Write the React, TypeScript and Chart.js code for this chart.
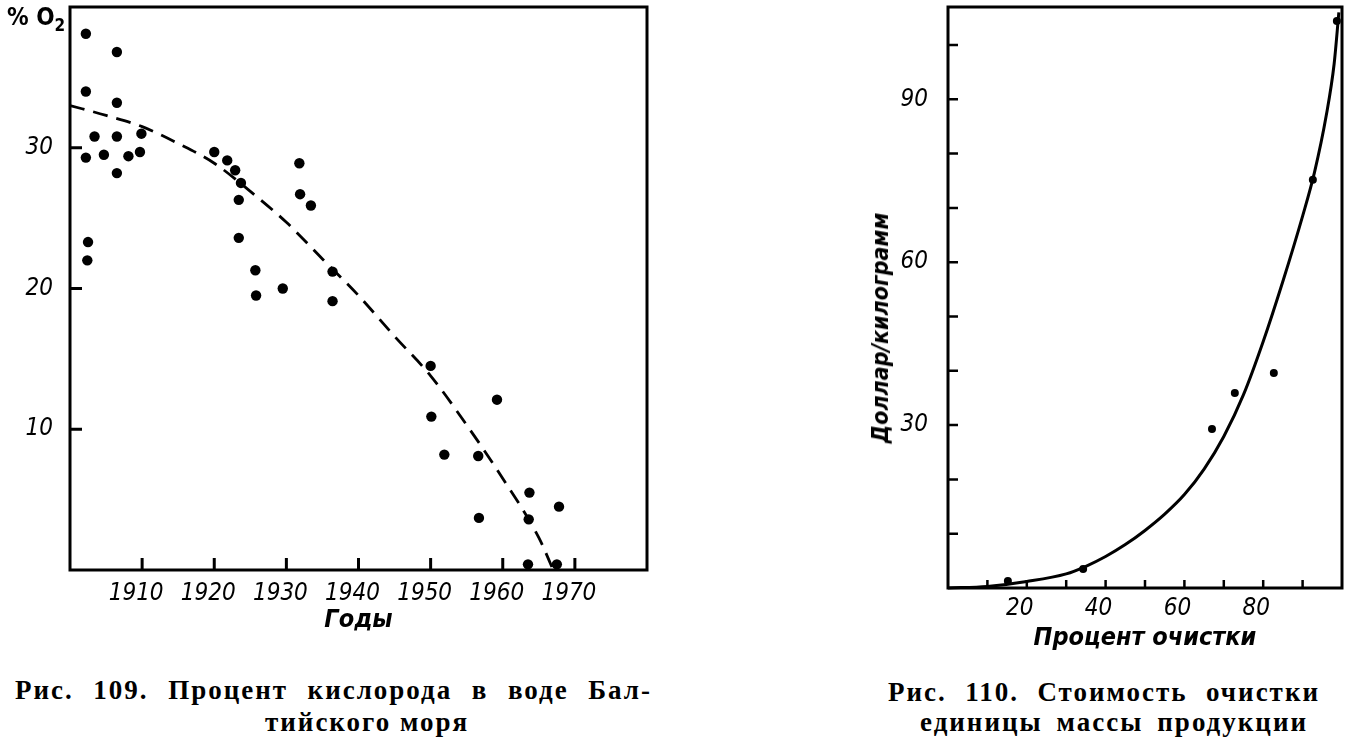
import React, { useEffect, useRef } from "react";
import { Chart, registerables } from "chart.js";

Chart.register(...registerables);

// ---------- Рис. 109: oxygen in Baltic Sea ----------
const oxygenYears = [
  1902.2, 1906.5, 1902.2, 1906.5, 1903.4, 1906.5, 1909.9, 1902.2, 1904.7, 1908.1,
  1909.7, 1906.5, 1902.5, 1902.4, 1920.0, 1921.8, 1922.9, 1923.7, 1923.4, 1923.4,
  1925.7, 1925.8, 1929.5, 1931.8, 1931.9, 1933.4, 1936.4, 1936.4, 1950.0, 1950.1,
  1951.9, 1956.6, 1959.2, 1956.7, 1963.7, 1963.6, 1963.5, 1967.8, 1967.5,
];
const oxygenValues = [
  38.1, 36.8, 34.0, 33.2, 30.8, 30.8, 31.0, 29.3, 29.5, 29.4,
  29.7, 28.2, 23.3, 22.0, 29.7, 29.1, 28.4, 27.5, 26.3, 23.6,
  21.3, 19.5, 20.0, 28.9, 26.7, 25.9, 21.2, 19.1, 14.5, 10.9,
  8.2, 8.1, 12.1, 3.7, 5.5, 3.6, 0.4, 4.5, 0.4,
];
const trendYears = [1900, 1905, 1910, 1915, 1920, 1925, 1930, 1935, 1940, 1945, 1950, 1955, 1960, 1965, 1967];
const trendValues = [33.0, 32.3, 31.5, 30.3, 28.9, 26.9, 24.7, 22.1, 19.5, 16.6, 13.8, 10.3, 6.5, 2.3, 0];
const oxygenXTicks = [1910, 1920, 1930, 1940, 1950, 1960, 1970];
const oxygenYTicks = [10, 20, 30];

// ---------- Рис. 110: cost of cleaning ----------
const cleanPercent = [15.2, 34.3, 67.0, 72.8, 82.7, 92.6, 98.7];
const cleanCost = [1.3, 3.5, 29.3, 35.9, 39.6, 75.2, 104.4];
const costCurveX = [0, 10, 20, 30, 35, 40, 45, 50, 55, 60, 65, 70, 75, 80, 85, 90, 93, 96, 98, 99.2];
const costCurveY = [0, 0.3, 1.2, 2.6, 4.0, 5.8, 8.0, 10.6, 13.6, 17.2, 21.9, 27.9, 35.6, 45.4, 56.5, 68.5, 76.5, 87.0, 96.5, 106.0];
const costXTicks = [10, 20, 30, 40, 50, 60, 70, 80, 90];
const costXLabels = [20, 40, 60, 80];
const costYTicks = [10, 20, 30, 40, 50, 60, 70, 80, 90, 100];
const costYLabels = [30, 60, 90];

const NARROW = '"DejaVu Sans Condensed", "DejaVu Sans", sans-serif';
const SERIF = '"Liberation Serif", "Times New Roman", serif';

// Frame around the plot area plus inward tick marks taken from the scales' own ticks
function makeFramePlugin(xLen: number, yLen: number, width: number) {
  return {
    id: "frameTicks",
    afterDraw(chart: any) {
      const { ctx, chartArea, scales } = chart;
      const { left, top, right, bottom } = chartArea;
      ctx.save();
      ctx.strokeStyle = "#000";
      ctx.lineCap = "butt";
      ctx.lineWidth = width;
      ctx.beginPath();
      for (const t of scales.x.ticks) {
        const px = scales.x.getPixelForValue(t.value);
        ctx.moveTo(px, bottom);
        ctx.lineTo(px, bottom - xLen);
      }
      for (const t of scales.y.ticks) {
        const py = scales.y.getPixelForValue(t.value);
        ctx.moveTo(left, py);
        ctx.lineTo(left + yLen, py);
      }
      ctx.stroke();
      ctx.lineWidth = 3;
      ctx.strokeRect(left, top, right - left, bottom - top);
      ctx.restore();
    },
  };
}

const tickFont = { family: NARROW, size: 24, style: "italic" as const };

const zeroPadding = (s: any) => {
  s.paddingTop = 0;
  s.paddingBottom = 0;
  s.paddingLeft = 0;
  s.paddingRight = 0;
};

function OxygenChart() {
  const ref = useRef<HTMLCanvasElement>(null);
  useEffect(() => {
    const chart = new Chart(ref.current!, {
      type: "scatter",
      data: {
        datasets: [
          {
            data: oxygenYears.map((x, i) => ({ x, y: oxygenValues[i] })),
            pointRadius: 5.2,
            pointBackgroundColor: "#000",
            pointBorderColor: "#000",
            pointBorderWidth: 0,
            showLine: false,
            clip: false as any,
          },
          {
            data: trendYears.map((x, i) => ({ x, y: trendValues[i] })),
            showLine: true,
            pointRadius: 0,
            borderColor: "#000",
            borderWidth: 2.8,
            borderDash: [15, 9],
            cubicInterpolationMode: "monotone",
            fill: false,
          } as any,
        ],
      },
      options: {
        animation: false,
        responsive: false,
        events: [],
        layout: { padding: { top: 7, right: 33, left: 0, bottom: 0 } },
        plugins: { legend: { display: false }, tooltip: { enabled: false } },
        scales: {
          x: {
            type: "linear",
            min: 1900,
            max: 1980,
            afterBuildTicks: (s: any) => {
              s.ticks = oxygenXTicks.map((value) => ({ value }));
            },
            afterFit: (s: any) => {
              s.height = 70;
              zeroPadding(s);
            },
            grid: { display: false, drawTicks: false },
            border: { display: false },
            ticks: {
              font: tickFont,
              color: "#000",
              padding: 9,
              labelOffset: -6,
              maxRotation: 0,
              autoSkip: false,
              callback: (v: any) => String(v),
            },
            title: {
              display: true,
              text: "Годы",
              color: "#000",
              font: { family: NARROW, size: 25, style: "italic", weight: "bold" },
              padding: { top: 0, bottom: 5 },
            },
          },
          y: {
            type: "linear",
            min: 0,
            max: 40,
            afterBuildTicks: (s: any) => {
              s.ticks = oxygenYTicks.map((value) => ({ value }));
            },
            afterFit: (s: any) => {
              s.width = 70;
              zeroPadding(s);
            },
            grid: { display: false, drawTicks: false },
            border: { display: false },
            ticks: {
              font: tickFont,
              color: "#000",
              padding: 17,
              autoSkip: false,
              callback: (v: any) => String(v),
            },
          },
        },
      },
      plugins: [makeFramePlugin(12, 12, 3)],
    } as any);
    return () => chart.destroy();
  }, []);
  return (
    <canvas
      ref={ref}
      width={680}
      height={640}
      style={{ position: "absolute", left: 0, top: 0, width: 680, height: 640 }}
    />
  );
}

function CostChart() {
  const ref = useRef<HTMLCanvasElement>(null);
  useEffect(() => {
    const chart = new Chart(ref.current!, {
      type: "scatter",
      data: {
        datasets: [
          {
            data: cleanPercent.map((x, i) => ({ x, y: cleanCost[i] })),
            pointRadius: 4,
            pointBackgroundColor: "#000",
            pointBorderColor: "#000",
            pointBorderWidth: 0,
            showLine: false,
            clip: false as any,
          },
          {
            data: costCurveX.map((x, i) => ({ x, y: costCurveY[i] })),
            showLine: true,
            pointRadius: 0,
            borderColor: "#000",
            borderWidth: 3,
            cubicInterpolationMode: "monotone",
            fill: false,
            clip: false,
          } as any,
        ],
      },
      options: {
        animation: false,
        responsive: false,
        events: [],
        layout: { padding: { top: 7, right: 7, left: 0, bottom: 0 } },
        plugins: { legend: { display: false }, tooltip: { enabled: false } },
        scales: {
          x: {
            type: "linear",
            min: 0,
            max: 100,
            afterBuildTicks: (s: any) => {
              s.ticks = costXTicks.map((value) => ({ value }));
            },
            afterFit: (s: any) => {
              s.height = 72;
              zeroPadding(s);
            },
            grid: { display: false, drawTicks: false },
            border: { display: false },
            ticks: {
              font: tickFont,
              color: "#000",
              padding: 6,
              labelOffset: -7,
              maxRotation: 0,
              autoSkip: false,
              callback: (v: any) => (costXLabels.includes(Number(v)) ? String(v) : ""),
            },
            title: {
              display: true,
              text: "Процент очистки",
              color: "#000",
              font: { family: NARROW, size: 25, style: "italic", weight: "bold" },
              padding: { top: 0, bottom: 7 },
            },
          },
          y: {
            type: "linear",
            min: 0,
            max: 107,
            afterBuildTicks: (s: any) => {
              s.ticks = costYTicks.map((value) => ({ value }));
            },
            afterFit: (s: any) => {
              s.width = 108;
              zeroPadding(s);
            },
            grid: { display: false, drawTicks: false },
            border: { display: false },
            ticks: {
              font: tickFont,
              color: "#000",
              padding: 20,
              autoSkip: false,
              callback: (v: any) => (costYLabels.includes(Number(v)) ? String(v) : ""),
            },
          },
        },
      },
      plugins: [makeFramePlugin(8, 10, 2.5)],
    } as any);
    return () => chart.destroy();
  }, []);
  return (
    <canvas
      ref={ref}
      width={509}
      height={660}
      style={{ position: "absolute", left: 840, top: 0, width: 509, height: 660 }}
    />
  );
}

const captionStyle: React.CSSProperties = {
  position: "absolute",
  fontFamily: SERIF,
  fontSize: 27,
  fontWeight: "bold",
  lineHeight: "30px",
  color: "#000",
  textAlign: "justify",
  textAlignLast: "justify" as any,
  letterSpacing: 2,
  whiteSpace: "nowrap",
};

export default function App() {
  return (
    <div
      style={{
        position: "absolute",
        left: 0,
        top: 0,
        width: 1349,
        height: 746,
        background: "#fff",
        overflow: "hidden",
      }}
    >
      <OxygenChart />
      <CostChart />
      <div
        style={{
          position: "absolute",
          left: 7,
          top: 4,
          fontFamily: NARROW,
          fontSize: 24,
          fontWeight: "bold",
          lineHeight: "26px",
          color: "#000",
        }}
      >
        %&nbsp;O<sub style={{ fontSize: 17, verticalAlign: "-6px" }}>2</sub>
      </div>
      <div
        style={{
          position: "absolute",
          left: 880,
          top: 328,
          transform: "translate(-50%, -50%) rotate(-90deg)",
          fontFamily: NARROW,
          fontSize: 23,
          fontStyle: "italic",
          fontWeight: "bold",
          whiteSpace: "nowrap",
          color: "#000",
        }}
      >
        Доллар/килограмм
      </div>
      <div style={{ ...captionStyle, left: 15, top: 675, width: 637 }}>
        Рис. 109. Процент кислорода в воде Бал-
      </div>
      <div style={{ ...captionStyle, left: 265, top: 707, width: 177 }}>тийского моря</div>
      <div style={{ ...captionStyle, left: 888, top: 677, width: 432 }}>
        Рис. 110. Стоимость очистки
      </div>
      <div style={{ ...captionStyle, left: 920, top: 707, width: 388 }}>
        единицы массы продукции
      </div>
    </div>
  );
}
